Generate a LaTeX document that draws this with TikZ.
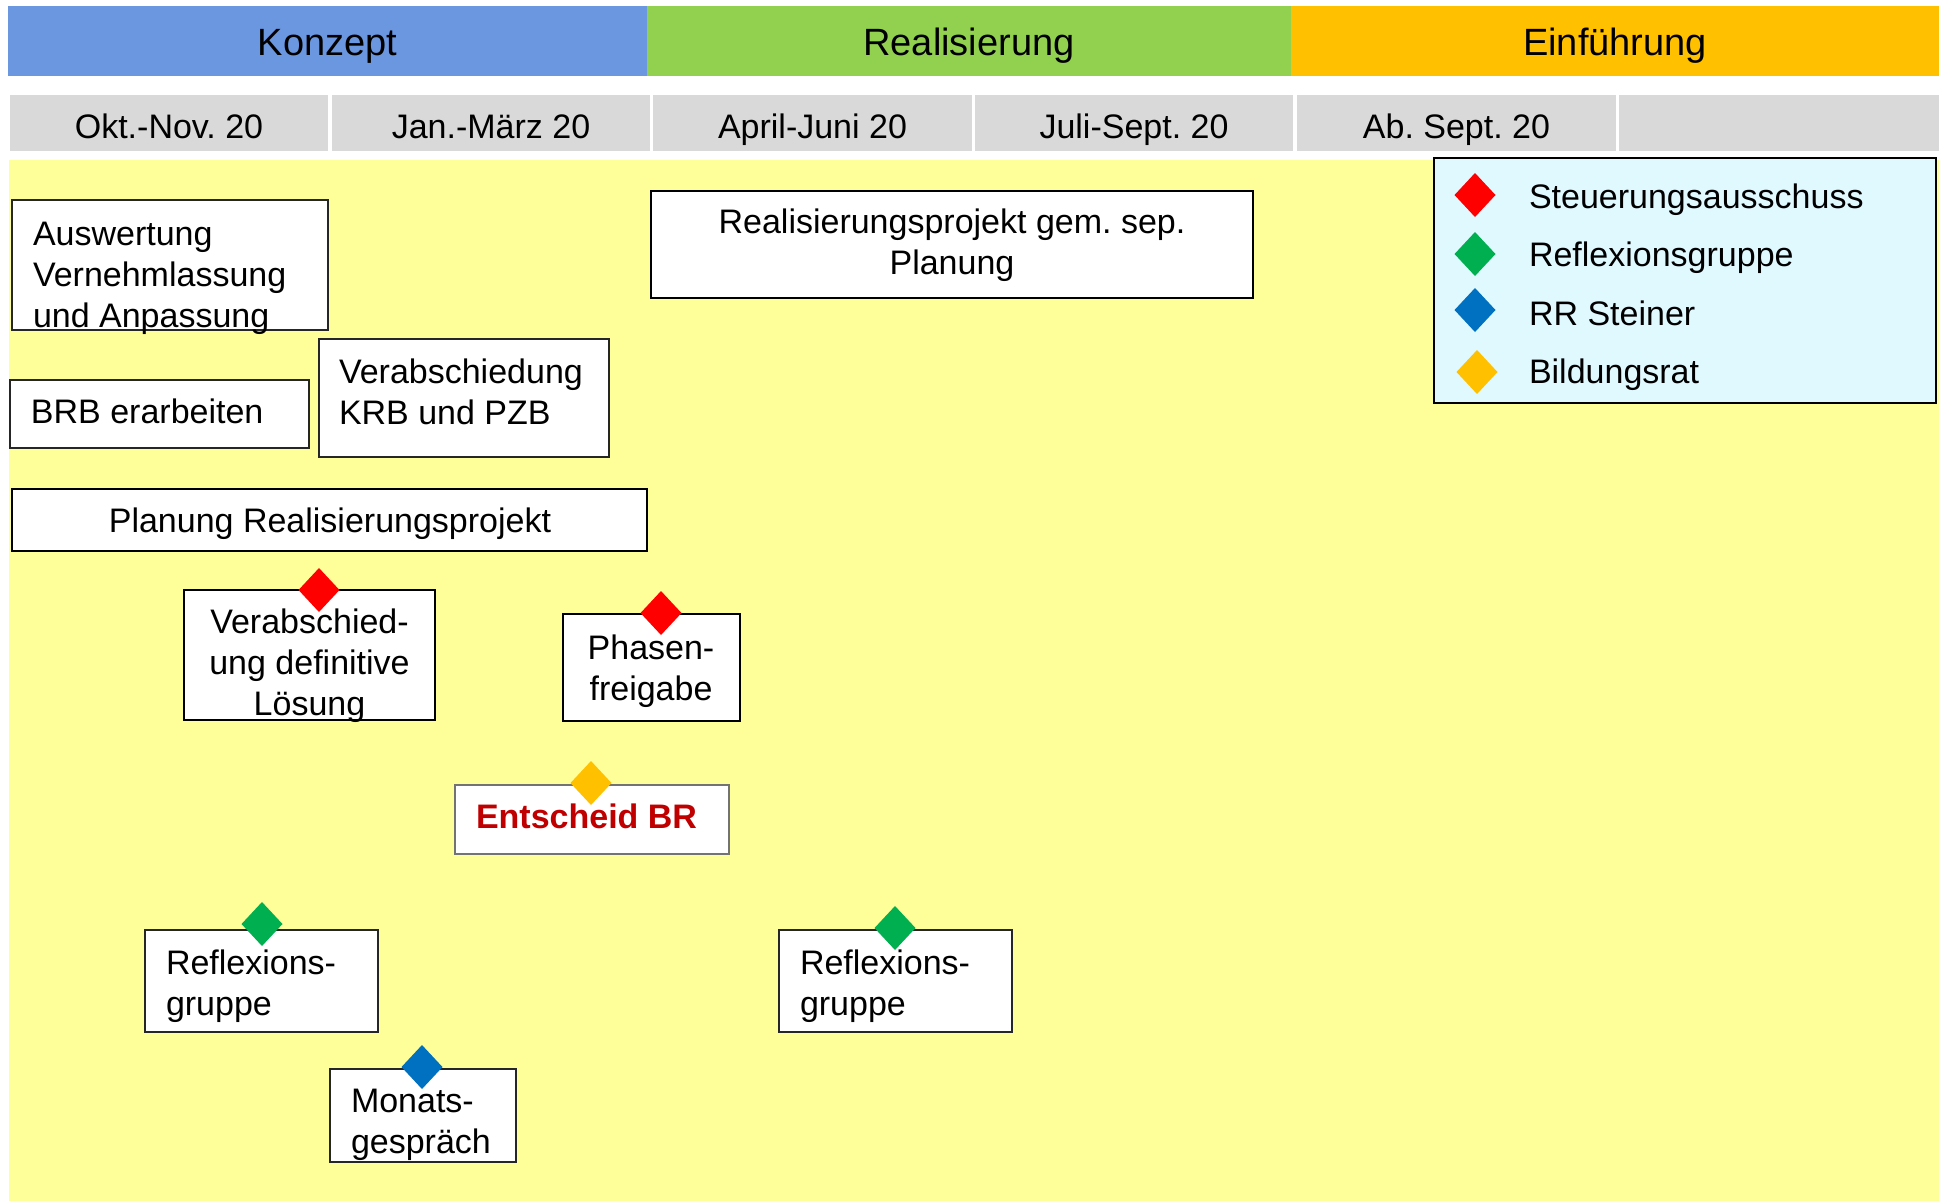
\documentclass[tikz,border=0pt]{standalone}
\usepackage{fontspec}
\setmainfont{Liberation Sans}
\usetikzlibrary{shapes.geometric}
\definecolor{cKonzept}{HTML}{6A97E0}
\definecolor{cReal}{HTML}{92D050}
\definecolor{cEinf}{HTML}{FFC000}
\definecolor{cMonth}{HTML}{D9D9D9}
\definecolor{cArea}{HTML}{FFFF99}
\definecolor{cLegend}{HTML}{DFF9FF}
\definecolor{msRed}{HTML}{FF0000}
\definecolor{msGreen}{HTML}{00B050}
\definecolor{msBlue}{HTML}{0070C0}
\definecolor{msYellow}{HTML}{FFC000}
\definecolor{darkRed}{HTML}{C00000}
\frenchspacing
\begin{document}
\frenchspacing
\begin{tikzpicture}[x=0.5pt,y=-0.5pt,
  band/.style={rectangle, draw=none, inner sep=0, outer sep=0},
  box/.style={rectangle, draw=black!85, line width=0.75pt, fill=white, inner sep=0, outer sep=0},
  thickbox/.style={box, draw=black, line width=1.25pt},
  lbl/.style={inner sep=0, outer sep=0, font=\fontsize{17pt}{20.5pt}\selectfont\frenchspacing},
  hdr/.style={inner sep=0, outer sep=0, font=\fontsize{19pt}{22pt}\selectfont},
  ms/.style={diamond, draw=none, inner sep=0, outer sep=0, minimum width=20.5pt, minimum height=22pt, fill=#1}
]
\useasboundingbox (0,0) rectangle (1939,1201);
% phase bar
\node[band, fill=cKonzept, minimum width=319.5pt, minimum height=35pt] (phK) at (327.5,41) {};
\node[band, fill=cReal, minimum width=322pt, minimum height=35pt] (phR) at (969,41) {};
\node[band, fill=cEinf, minimum width=324pt, minimum height=35pt] (phE) at (1615,41) {};
\node[hdr, anchor=base] (phKt) at (327.5,55.5) {Konzept};
\node[hdr, anchor=base] (phRt) at (969,55.5) {Realisierung};
\node[hdr, anchor=base] (phEt) at (1615,55.5) {Einführung};
% month bar
\node[band, fill=cMonth, minimum width=159pt, minimum height=28pt] (m1) at (169,123) {};
\node[band, fill=cMonth, minimum width=159pt, minimum height=28pt] (m2) at (491,123) {};
\node[band, fill=cMonth, minimum width=159.5pt, minimum height=28pt] (m3) at (812.5,123) {};
\node[band, fill=cMonth, minimum width=159pt, minimum height=28pt] (m4) at (1134,123) {};
\node[band, fill=cMonth, minimum width=159.5pt, minimum height=28pt] (m5) at (1456.5,123) {};
\node[band, fill=cMonth, minimum width=160pt, minimum height=28pt] (m6) at (1779,123) {};
\node[lbl, anchor=base] (m1t) at (169,138.5) {Okt.-Nov. 20};
\node[lbl, anchor=base] (m2t) at (491,138.5) {Jan.-März 20};
\node[lbl, anchor=base] (m3t) at (812.5,138.5) {April-Juni 20};
\node[lbl, anchor=base] (m4t) at (1134,138.5) {Juli-Sept. 20};
\node[lbl, anchor=base] (m5t) at (1456.5,138.5) {Ab. Sept. 20};
% yellow area
\node[band, fill=cArea, minimum width=965pt, minimum height=520.5pt] (area) at (974,680.5) {};
% boxes
\node[box, minimum width=158pt, minimum height=65pt] (ausw) at (170,265) {};
\node[box, minimum width=149.5pt, minimum height=34pt] (brb) at (159.5,414) {};
\node[box, minimum width=145pt, minimum height=59pt] (verkrb) at (464,398) {};
\node[thickbox, minimum width=317.5pt, minimum height=31pt] (plan) at (329.5,520) {};
\node[thickbox, minimum width=301pt, minimum height=53.5pt] (realp) at (952,244.5) {};
\node[thickbox, minimum width=125.5pt, minimum height=65pt] (verdef) at (309.5,655) {};
\node[thickbox, minimum width=88.5pt, minimum height=53.5pt] (phasen) at (651.5,667.5) {};
\node[box, draw=black!55, minimum width=137pt, minimum height=34.5pt] (entsch) at (592,819.5) {};
\node[box, minimum width=116.5pt, minimum height=51pt] (refl1) at (261.5,981) {};
\node[box, minimum width=116.5pt, minimum height=51pt] (refl2) at (895.5,981) {};
\node[box, minimum width=93pt, minimum height=46.5pt] (monat) at (423,1115.5) {};
\node[thickbox, fill=cLegend, minimum width=251pt, minimum height=122.5pt] (legend) at (1685,280.5) {};
% texts
\node[lbl, anchor=base west] (auswt) at (33,245) {\begin{tabular}[t]{@{}l@{}}Auswertung\\Vernehmlassung\\und Anpassung\end{tabular}};
\node[lbl, anchor=base west] (brbt) at (31,423) {BRB erarbeiten};
\node[lbl, anchor=base west] (verkrbt) at (339,383.5) {\begin{tabular}[t]{@{}l@{}}Verabschiedung\\KRB und PZB\end{tabular}};
\node[lbl, anchor=base] (plant) at (330,532.7) {Planung Realisierungsprojekt};
\node[lbl, anchor=base] (realpt) at (952,233.4) {\begin{tabular}[t]{@{}c@{}}Realisierungsprojekt gem. sep.\\Planung\end{tabular}};
\node[lbl, anchor=base] (verdeft) at (309.5,633) {\begin{tabular}[t]{@{}c@{}}Verabschied-\\ung definitive\\Lösung\end{tabular}};
\node[lbl, anchor=base] (phasent) at (651,659) {\begin{tabular}[t]{@{}c@{}}Phasen-\\freigabe\end{tabular}};
\node[lbl, anchor=base west, text=darkRed, font=\fontsize{17pt}{20.5pt}\selectfont\bfseries] (entscht) at (476,828) {Entscheid BR};
\node[lbl, anchor=base west] (refl1t) at (166,974) {\begin{tabular}[t]{@{}l@{}}Reflexions-\\gruppe\end{tabular}};
\node[lbl, anchor=base west] (refl2t) at (800,974) {\begin{tabular}[t]{@{}l@{}}Reflexions-\\gruppe\end{tabular}};
\node[lbl, anchor=base west] (monatt) at (351,1112.6) {\begin{tabular}[t]{@{}l@{}}Monats-\\gespräch\end{tabular}};
% legend
\node[ms=msRed] (lg1) at (1475,195) {};
\node[ms=msGreen] (lg2) at (1475,254) {};
\node[ms=msBlue] (lg3) at (1475,310) {};
\node[ms=msYellow] (lg4) at (1477,372) {};
\node[lbl, anchor=base west] (lg1t) at (1529,208.6) {Steuerungsausschuss};
\node[lbl, anchor=base west] (lg2t) at (1529,266) {Reflexionsgruppe};
\node[lbl, anchor=base west] (lg3t) at (1529,325) {RR Steiner};
\node[lbl, anchor=base west] (lg4t) at (1529,383) {Bildungsrat};
% milestones
\node[ms=msRed] (d1) at (319,590) {};
\node[ms=msRed] (d2) at (661,613) {};
\node[ms=msYellow] (d3) at (591,783) {};
\node[ms=msGreen] (d4) at (262,924) {};
\node[ms=msGreen] (d5) at (895,928) {};
\node[ms=msBlue] (d6) at (422,1067) {};
\end{tikzpicture}
\end{document}
